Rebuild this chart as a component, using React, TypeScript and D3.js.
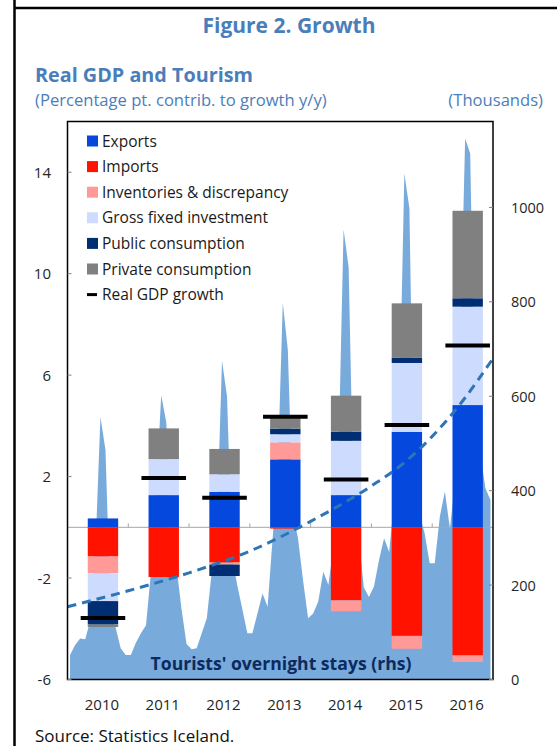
import React from 'react';
import * as d3 from 'd3';

// ---------- DATA ----------
const years = ['2010', '2011', '2012', '2013', '2014', '2015', '2016'];
const exportsC = [0.35, 1.27, 1.40, 2.68, 1.27, 3.76, 4.82];
const importsC = [-1.15, -1.96, -1.39, -0.05, -2.88, -4.28, -5.05];
const inventoriesC = [-0.66, 0.0, -0.08, 0.67, -0.43, -0.51, -0.26];
const gfiC = [-1.10, 1.42, 0.69, 0.32, 2.14, 2.72, 3.88];
const publicC = [-0.92, 0.0, -0.45, 0.22, 0.36, 0.20, 0.33];
const privateC = [-0.10, 1.21, 1.00, 0.49, 1.42, 2.15, 3.45];
const gdpGrowth = [-3.58, 1.94, 1.17, 4.36, 1.89, 4.03, 7.17];

// Tourists' overnight stays, thousands, monthly Jan 2010 - Dec 2016
const tourists2010 = [52, 73, 87, 85, 125, 270, 556, 486, 140, 110, 66, 52];
const tourists2011 = [52, 78, 98, 115, 230, 400, 602, 545, 300, 240, 150, 75];
const tourists2012 = [64, 66, 98, 130, 230, 330, 675, 599, 260, 200, 150, 98];
const tourists2013 = [98, 140, 182, 154, 300, 440, 798, 698, 350, 300, 210, 130];
const tourists2014 = [140, 165, 228, 200, 280, 470, 953, 874, 360, 300, 195, 175];
const tourists2015 = [197, 253, 299, 270, 380, 560, 1072, 998, 330, 350, 310, 246];
const tourists2016 = [246, 345, 398, 320, 420, 700, 1146, 1114, 520, 480, 405, 380];
const tourists = [
  ...tourists2010, ...tourists2011, ...tourists2012, ...tourists2013,
  ...tourists2014, ...tourists2015, ...tourists2016,
];

// Trend line (thousands) read at month positions from Jan 2010
const trendMonths = [0, 12, 24, 36, 48, 60, 66, 72, 78, 84];
const trendValues = [154, 188, 226, 272, 335, 410, 455, 515, 590, 680];

const leftTicks = [-6, -2, 2, 6, 10, 14];
const rightTicks = [0, 200, 400, 600, 800, 1000];

const seriesKeys = ['exports', 'imports', 'inventories', 'gfi', 'public', 'private'];
const seriesLabels = [
  'Exports', 'Imports', 'Inventories & discrepancy', 'Gross fixed investment',
  'Public consumption', 'Private consumption',
];
const seriesColors = ['#0448DE', '#FF1200', '#FF9A98', '#CDDCFE', '#012D73', '#808080'];

// ---------- LAYOUT ----------
const W = 557;
const H = 746;
const P = { left: 67.5, right: 493, top: 121.5, bottom: 679.5 };
const FONT = '"Open Sans", "Noto Sans", sans-serif';
const TITLE_BLUE = '#4A7EBB';
const TEXT = '#262626';

export default function App() {
  const x = d3.scaleLinear().domain([0, 84]).range([P.left, P.right]);
  const yL = d3.scaleLinear().domain([-6, 16]).range([P.bottom, P.top]);
  const yR = d3.scaleLinear().domain([0, 1182]).range([P.bottom, P.top]);

  const rows = years.map((yr, i) => ({
    year: yr,
    exports: exportsC[i],
    imports: importsC[i],
    inventories: inventoriesC[i],
    gfi: gfiC[i],
    public: publicC[i],
    private: privateC[i],
  }));
  const stacked = d3.stack<any>().keys(seriesKeys).offset(d3.stackOffsetDiverging)(rows);

  const areaGen = d3
    .area<number>()
    .x((_, i) => x(i + 0.5))
    .y0(yR(0))
    .y1((d) => yR(d));
  const areaPath = areaGen(tourists) || '';

  const trendGen = d3
    .line<number>()
    .x((_, i) => x(trendMonths[i]))
    .y((d) => yR(d))
    .curve(d3.curveMonotoneX);
  const trendPath = trendGen(trendValues) || '';

  const center = (i: number) => x(i * 12 + 7);
  const halfBar = x(3) - x(0);
  const halfMarker = x(4.4) - x(0);
  const zeroY = yL(0);

  const legendY0 = 141;
  const legendStep = 25.6;

  return (
    <svg
      width={W}
      height={H}
      style={{ position: 'absolute', left: 0, top: 0, background: '#fff' }}
      fontFamily={FONT}
    >
      <rect x={0} y={0} width={W} height={H} fill="#fff" />
      {/* page frame */}
      <line x1={14.5} x2={14.5} y1={0} y2={H} stroke="#000" strokeWidth={2.5} />
      <line x1={14.5} x2={W} y1={8} y2={8} stroke="#000" strokeWidth={2.5} />

      {/* titles */}
      <text x={289} y={33} textAnchor="middle" fontSize={21} fontWeight={700} fill={TITLE_BLUE}>
        Figure 2. Growth
      </text>
      <text x={35} y={82} fontSize={19.8} fontWeight={700} fill={TITLE_BLUE}>
        Real GDP and Tourism
      </text>
      <text x={35} y={106} fontSize={16.6} fill={TITLE_BLUE}>
        (Percentage pt. contrib. to growth y/y)
      </text>
      <text x={543} y={106} fontSize={16.6} fill={TITLE_BLUE} textAnchor="end">
        (Thousands)
      </text>

      {/* area */}
      <path d={areaPath} fill="#78ABDC" />

      {/* zero line */}
      <line x1={P.left} x2={P.right} y1={zeroY} y2={zeroY} stroke="#A6A6A6" strokeWidth={1} />
      {d3.range(1, 7).map((k) => (
        <line key={k} x1={x(k * 12)} x2={x(k * 12)} y1={zeroY} y2={zeroY - 4} stroke="#A6A6A6" strokeWidth={1} />
      ))}

      {/* stacked bars */}
      {stacked.map((s, si) => (
        <g key={s.key} fill={seriesColors[si]}>
          {s.map((d, i) => {
            const y0 = yL(d[0]);
            const y1 = yL(d[1]);
            const h = Math.abs(y0 - y1);
            if (h < 0.01) return null;
            return (
              <rect key={i} x={center(i) - halfBar} width={halfBar * 2} y={Math.min(y0, y1)} height={h} />
            );
          })}
        </g>
      ))}

      {/* GDP markers */}
      {gdpGrowth.map((g, i) => (
        <line
          key={i}
          x1={center(i) - halfMarker}
          x2={center(i) + halfMarker}
          y1={yL(g)}
          y2={yL(g)}
          stroke="#000"
          strokeWidth={4}
        />
      ))}

      {/* trend */}
      <path d={trendPath} fill="none" stroke="#2E75B6" strokeWidth={3} strokeDasharray="9 6" />

      {/* area label */}
      <text x={281} y={670} textAnchor="middle" fontSize={17.6} fontWeight={700} fill="#0C2A5E">
        Tourists' overnight stays (rhs)
      </text>

      {/* frame */}
      <rect x={P.left} y={P.top} width={P.right - P.left} height={P.bottom - P.top} fill="none" stroke="#000" strokeWidth={1.5} />

      {/* left axis */}
      {leftTicks.map((t) => (
        <g key={t}>
          <line x1={P.left} x2={P.left + 4} y1={yL(t)} y2={yL(t)} stroke="#808080" />
          <text x={51} y={yL(t) + 5.5} textAnchor="end" fontSize={15} fill={TEXT}>
            {t}
          </text>
        </g>
      ))}
      {/* right axis */}
      {rightTicks.map((t) => (
        <g key={t}>
          <line x1={P.right - 4} x2={P.right} y1={yR(t)} y2={yR(t)} stroke="#808080" />
          <text x={511} y={yR(t) + 5.5} fontSize={14.5} fill={TEXT}>
            {t}
          </text>
        </g>
      ))}
      {/* x labels */}
      {years.map((yr, i) => (
        <text key={yr} x={center(i) - 1} y={710} textAnchor="middle" fontSize={15} fill={TEXT}>
          {yr}
        </text>
      ))}

      {/* legend */}
      {seriesLabels.map((lab, i) => (
        <g key={lab}>
          <rect x={87} y={legendY0 + i * legendStep - 5.5} width={11} height={11} fill={seriesColors[i]} />
          <text x={102} y={legendY0 + i * legendStep + 5.5} fontSize={15.5} fill="#1a1a1a">
            {lab}
          </text>
        </g>
      ))}
      <line x1={87} x2={97} y1={legendY0 + 6 * legendStep} y2={legendY0 + 6 * legendStep} stroke="#000" strokeWidth={3} />
      <text x={102} y={legendY0 + 6 * legendStep + 5.5} fontSize={15.5} fill="#1a1a1a">
        Real GDP growth
      </text>

      {/* source */}
      <text x={35} y={742} fontSize={17} fill="#111">
        Source: Statistics Iceland.
      </text>
    </svg>
  );
}
